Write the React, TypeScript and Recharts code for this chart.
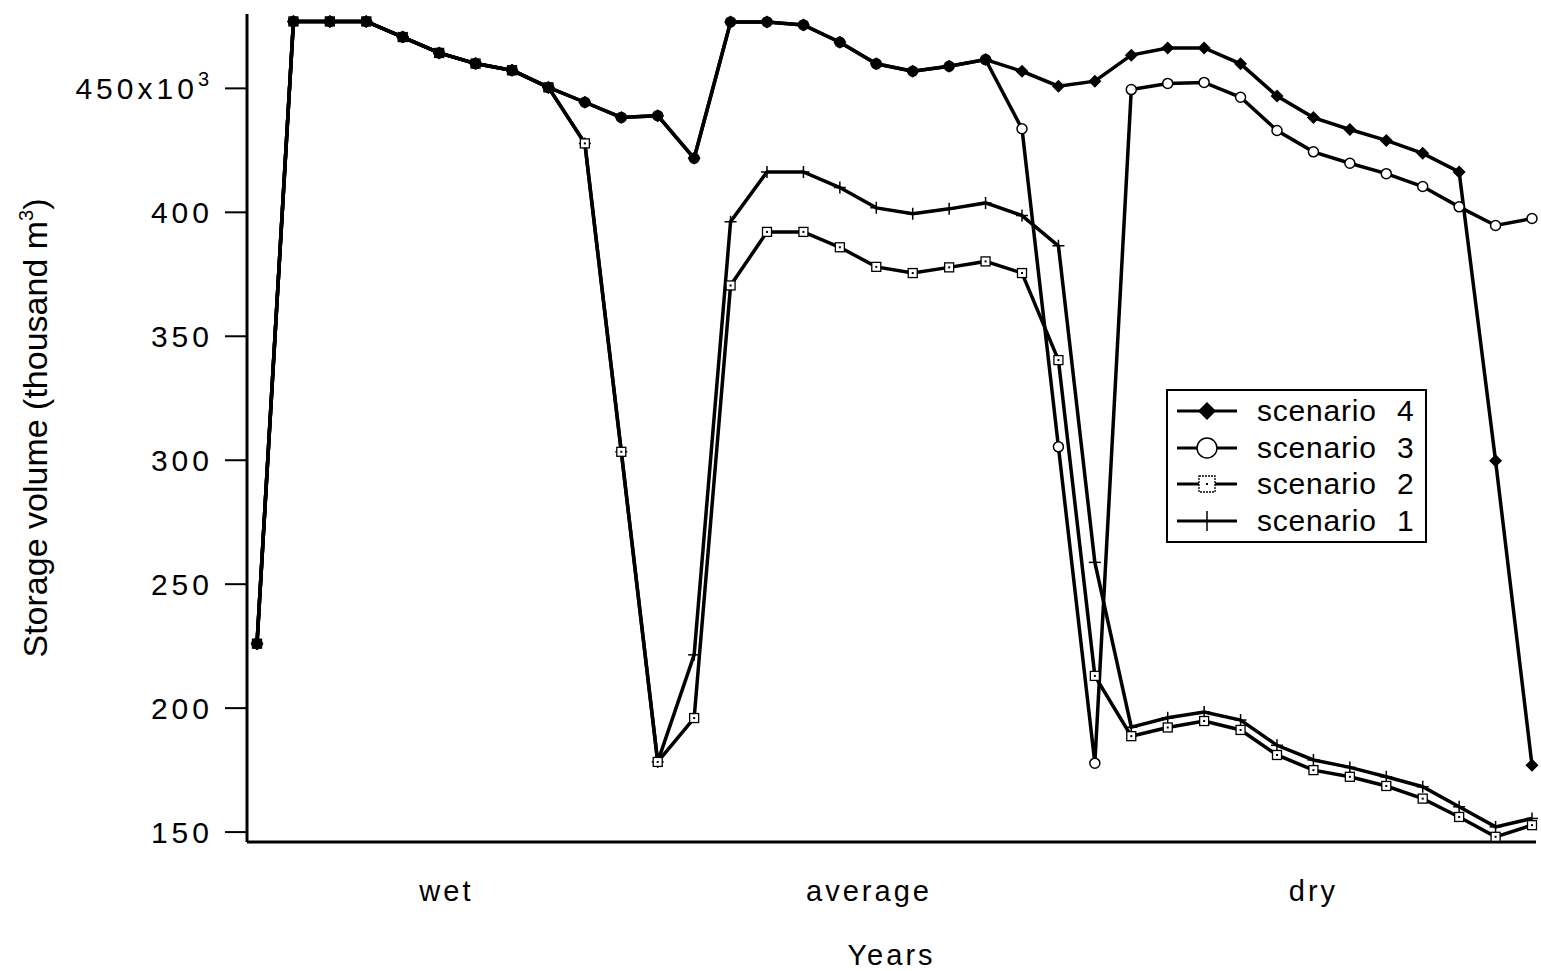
import { LineChart, Line, XAxis, YAxis, Legend, Label } from 'recharts';

const YEARS = [1, 2, 3, 4, 5, 6, 7, 8, 9, 10, 11, 12, 13, 14, 15, 16, 17, 18, 19, 20, 21, 22, 23, 24, 25, 26, 27, 28, 29, 30, 31, 32, 33, 34, 35, 36];

const SCENARIO_4 = [226, 477, 477, 477, 470.7, 464.3, 460, 457.3, 450.4, 444.4, 438.3, 439, 421.8, 476.8, 476.8, 475.6, 468.6, 459.9, 456.9, 458.9, 461.6, 456.9, 450.9, 452.9, 463.4, 466.3, 466.3, 459.9, 446.9, 438.2, 433.4, 429, 423.8, 416.3, 299.8, 177];
const SCENARIO_3 = [226, 477, 477, 477, 470.7, 464.3, 460, 457.3, 450.4, 444.4, 438.3, 439, 421.8, 476.8, 476.8, 475.6, 468.6, 459.9, 456.9, 458.9, 461.6, 433.7, 305.4, 177.8, 449.5, 452, 452.4, 446.4, 433, 424.4, 419.8, 415.6, 410.4, 402.2, 394.7, 397.5];
const SCENARIO_2 = [226, 477, 477, 477, 470.7, 464.3, 460, 457.3, 450.4, 427.8, 303.4, 178.3, 196, 370.5, 392.1, 392.1, 385.9, 378, 375.5, 377.8, 380.2, 375.5, 340.4, 213, 188.7, 192.2, 194.8, 191.2, 181.1, 175, 172.3, 168.6, 163.5, 156.1, 148.1, 152.8];
const SCENARIO_1 = [226, 477, 477, 477, 470.7, 464.3, 460, 457.3, 450.4, 427.8, 303.4, 178.3, 221.5, 396.2, 416.3, 416.3, 410, 401.8, 399.4, 401.4, 403.8, 398.7, 386.5, 258.8, 192.3, 196.1, 198.4, 195.2, 185, 179.1, 176.1, 172.3, 168.3, 160.2, 152.1, 155.5];

const Y_TICKS = [150, 200, 250, 300, 350, 400, 450];
const PERIOD_LABELS = ['wet', 'average', 'dry'];
const PERIOD_TICKS = [6.2, 17.8, 30];

const FONT = '"Liberation Sans", Arial, Helvetica, sans-serif';

const data = YEARS.map((year, i) => ({
  year,
  s1: SCENARIO_1[i],
  s2: SCENARIO_2[i],
  s3: SCENARIO_3[i],
  s4: SCENARIO_4[i],
}));

type Shape = 'diamond' | 'circle' | 'square' | 'plus';

function Marker({ shape, cx, cy, big = false }: { shape: Shape; cx: number; cy: number; big?: boolean }) {
  if (cx == null || cy == null) return null;
  if (shape === 'diamond') {
    const s = big ? 9 : 6.5;
    return <polygon points={`${cx},${cy - s} ${cx + s},${cy} ${cx},${cy + s} ${cx - s},${cy}`} fill="#000" />;
  }
  if (shape === 'circle') {
    return <circle cx={cx} cy={cy} r={big ? 10 : 5} fill="#fff" stroke="#000" strokeWidth={1.5} />;
  }
  if (shape === 'square') {
    const s = big ? 8 : 4.5;
    return (
      <g>
        <rect x={cx - s} y={cy - s} width={s * 2} height={s * 2} fill="#fff" stroke="#000" strokeWidth={1.3} strokeDasharray={big ? '2 1' : undefined} />
        <rect x={cx - 1} y={cy - 1} width={2} height={2} fill="#000" />
      </g>
    );
  }
  const s = big ? 10 : 6;
  return (
    <g stroke="#000" strokeWidth={1.5}>
      <line x1={cx - s} x2={cx + s} y1={cy} y2={cy} />
      <line x1={cx} x2={cx} y1={cy - s} y2={cy + s} />
    </g>
  );
}

const dotFor = (shape: Shape) => (p: any) => <Marker key={`${shape}-${p.index}`} shape={shape} cx={p.cx} cy={p.cy} />;

function StorageTick({ x, y, payload }: any) {
  const v = payload.value;
  return (
    <text x={x} y={y} dy="0.36em" textAnchor="end" fontFamily={FONT} fontSize={30} letterSpacing={4} fill="#000">
      {v === 450 ? (
        <>
          {'450x10'}
          <tspan dy={-13} fontSize={20}>3</tspan>
        </>
      ) : (
        v
      )}
    </text>
  );
}

function PeriodTick({ x, y, index }: any) {
  return (
    <text x={x} y={y + 59} textAnchor="middle" fontFamily={FONT} fontSize={29} letterSpacing={3} fill="#000">
      {PERIOD_LABELS[index]}
    </text>
  );
}

function StorageLabel({ viewBox }: any) {
  const cy = viewBox.y + viewBox.height / 2;
  return (
    <text transform={`translate(47, ${cy}) rotate(-90)`} textAnchor="middle" fontFamily={FONT} fontSize={34} fill="#000">
      Storage volume (thousand m
      <tspan dy={-14} fontSize={20}>3</tspan>
      <tspan dy={14}>)</tspan>
    </text>
  );
}

const LEGEND_ITEMS: { name: string; shape: Shape }[] = [
  { name: 'scenario 4', shape: 'diamond' },
  { name: 'scenario 3', shape: 'circle' },
  { name: 'scenario 2', shape: 'square' },
  { name: 'scenario 1', shape: 'plus' },
];

function LegendBox() {
  return (
    <div
      style={{
        boxSizing: 'border-box',
        width: 261,
        height: 154,
        border: '2px solid #000',
        background: '#fff',
        padding: '2px 0 2px 9px',
        fontFamily: FONT,
        fontSize: 30,
        color: '#000',
      }}
    >
      {LEGEND_ITEMS.map((item) => (
        <div key={item.name} style={{ display: 'flex', alignItems: 'center', height: 36.5 }}>
          <svg width={60} height={24} style={{ overflow: 'visible' }}>
            <line x1={0} x2={60} y1={12} y2={12} stroke="#000" strokeWidth={3} />
            <Marker shape={item.shape} cx={30} cy={12} big />
          </svg>
          <span style={{ marginLeft: 20, lineHeight: 1, letterSpacing: 0.8, wordSpacing: 11 }}>{item.name}</span>
        </div>
      ))}
    </div>
  );
}

export default function App() {
  return (
    <div style={{ position: 'absolute', left: 0, top: 0, background: '#fff' }}>
      <LineChart width={1541} height={971} data={data} margin={{ top: 14, right: 5, bottom: 0, left: 0 }}>
        <XAxis
          dataKey="year"
          type="number"
          domain={[1, 36]}
          ticks={PERIOD_TICKS}
          interval={0}
          padding={{ left: 10, right: 4 }}
          height={129}
          tickSize={0}
          tickMargin={0}
          tickLine={false}
          axisLine={{ stroke: '#000', strokeWidth: 3 }}
          tick={<PeriodTick />}
        >
          <Label
            value="Years"
            position="insideBottom"
            offset={6}
            style={{ fontFamily: FONT, fontSize: 29, letterSpacing: 3, fill: '#000' }}
          />
        </XAxis>
        <YAxis
          type="number"
          domain={[146, 480]}
          ticks={Y_TICKS}
          interval={0}
          allowDataOverflow
          width={247}
          tickSize={22}
          tickMargin={12}
          axisLine={{ stroke: '#000', strokeWidth: 3 }}
          tickLine={{ stroke: '#000', strokeWidth: 2 }}
          tick={<StorageTick />}
        >
          <Label content={<StorageLabel />} />
        </YAxis>
        <Legend
          layout="vertical"
          align="center"
          verticalAlign="middle"
          wrapperStyle={{ left: 1166, top: 389, width: 261, height: 154 }}
          content={<LegendBox />}
        />
        <Line dataKey="s1" stroke="#000" strokeWidth={3.5} dot={dotFor('plus')} activeDot={false} isAnimationActive={false} />
        <Line dataKey="s2" stroke="#000" strokeWidth={3.5} dot={dotFor('square')} activeDot={false} isAnimationActive={false} />
        <Line dataKey="s3" stroke="#000" strokeWidth={3.5} dot={dotFor('circle')} activeDot={false} isAnimationActive={false} />
        <Line dataKey="s4" stroke="#000" strokeWidth={3.5} dot={dotFor('diamond')} activeDot={false} isAnimationActive={false} />
      </LineChart>
    </div>
  );
}
